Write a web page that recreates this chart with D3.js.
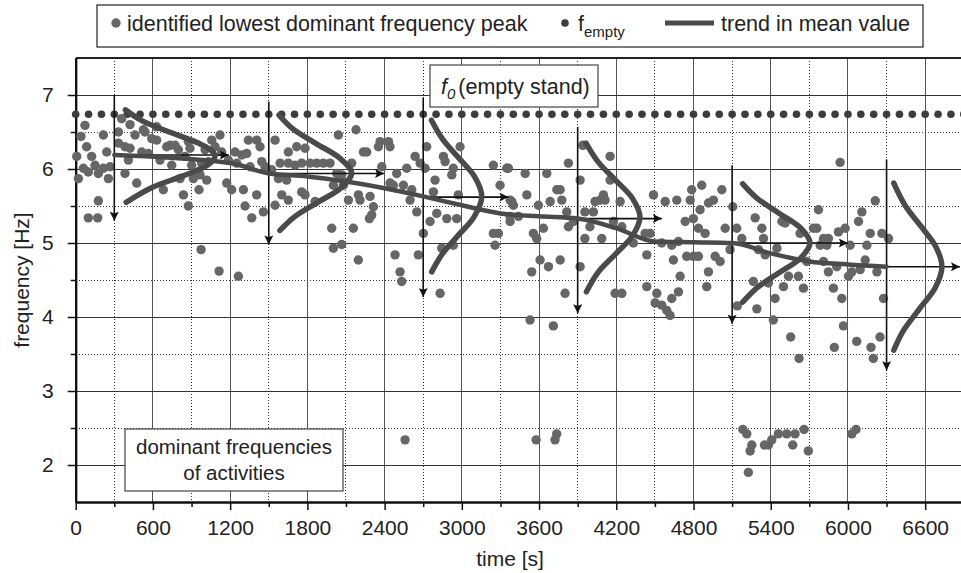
<!DOCTYPE html>
<html>
<head>
<meta charset="utf-8">
<script src="https://cdn.jsdelivr.net/npm/d3@7/dist/d3.min.js"></script>
<style>
  body { margin: 0; background: #fff; }
  text { font-family: "Liberation Sans", Arial, sans-serif; fill: #222; }
</style>
</head>
<body>
<svg id="chart" width="961" height="573"></svg>
<script>
// identified lowest dominant frequency peaks [time s, frequency Hz]
const peaks = [
  [72,6.59],[357,6.68],[422,6.60],[629,6.57],[539,6.50],[41,6.44],[215,6.46],[332,6.50],[461,6.46],[526,6.53],[591,6.41],[629,6.39],
  [733,6.32],[772,6.32],[875,6.37],[1057,6.39],[1121,6.46],[1342,6.39],[1406,6.39],[1432,6.30],[1549,6.39],[1652,6.23],[1717,6.30],
  [85,6.30],[241,6.23],[332,6.35],[383,6.30],[422,6.28],[513,6.23],[565,6.21],[707,6.30],[798,6.26],[888,6.28],[1005,6.26],[1083,6.30],
  [1134,6.23],[1238,6.23],[1290,6.19],[1329,6.21],[1445,6.10],
  [8,6.17],[124,6.17],[150,6.05],[60,6.01],[215,6.01],[267,6.03],[409,6.12],[655,6.12],[746,6.05],[850,6.17],[901,6.05],[979,6.08],
  [1031,6.10],[1186,6.12],[1251,6.08],[1355,6.03],[1471,6.03],[1588,6.08],[1652,6.08],[1704,6.05],
  [21,5.87],[98,5.96],[176,5.94],[254,5.87],[383,5.94],[474,5.81],[681,5.72],[811,5.87],[914,5.87],[966,5.92],[1018,5.85],[1173,5.81],
  [1212,5.72],[1303,5.72],[1406,5.65],[1523,5.99],[1575,5.87],[1639,5.85],
  [176,5.57],[837,5.65],[875,5.50],[958,5.72],[1316,5.50],[1601,5.65],[1652,5.58],[1549,5.51],
  [98,5.34],[171,5.34],[1368,5.34],[1458,5.42],[974,4.91],[1114,4.62],[1264,4.55],
  [2041,6.46],[2178,6.53],[2365,6.37],[2430,6.37],[2352,6.30],[2442,6.30],[2235,6.23],[2261,6.23],[1782,6.28],
  [1756,6.08],[1821,6.08],[1873,6.08],[1924,6.08],[1976,6.08],[2144,6.08],[2028,5.94],[2067,5.92],[2002,5.78],[2080,5.78],
  [1756,5.69],[1782,5.65],[1860,5.56],[1989,5.20],[2157,5.20],[2002,4.93],[2067,4.98],[2196,4.77],
  [2119,5.58],[2209,5.58],[2196,5.65],[2287,5.63],[2313,5.49],[2300,5.38],[2282,5.33],
  [2378,6.03],[2442,5.81],[2468,5.78],[2494,5.94],[2546,5.78],[2572,6.01],[2611,5.72],[2637,6.17],[2676,6.08],[2715,6.01],[2727,6.30],
  [2779,5.69],[2792,5.85],[2857,6.17],[2870,6.10],[2922,5.92],[2934,6.01],[2986,6.30],[2973,5.65],
  [2598,5.58],[2650,5.42],[2753,5.29],[2805,5.40],[2883,5.33],[2960,5.33],[2701,5.13],[2481,4.84],[2520,4.61],[2533,4.48],[2662,4.84],
  [2831,4.32],[2844,4.93],[2934,4.97],
  [3245,6.05],[3349,6.01],[3297,5.78],[3375,5.58],[3388,5.56],[3375,5.29],[3245,5.13],[3284,5.13],[3258,4.97],
  [3362,6.01],[3492,5.94],[3660,5.94],[3828,6.08],[3919,5.85],[4152,6.17],[4152,5.85],[4100,5.65],[4113,5.58],[4035,5.56],[4074,5.58],
  [4022,5.42],[3956,5.42],[3738,5.72],[3764,5.72],[3686,5.56],[3777,5.58],[3505,5.65],[3401,5.51],[3595,5.51],[3440,5.36],[3375,5.36],
  [3815,5.42],[3828,5.22],[3867,5.29],[3556,5.13],[3582,5.06],[3634,5.20],[3956,5.06],[3995,5.22],[4087,5.06],[4178,5.29],[4230,5.56],
  [4243,5.22],[4333,5.00],[4424,5.13],[4463,5.13],[4437,4.84],
  [3608,4.77],[3673,4.68],[3543,4.61],[3764,4.77],[3919,4.68],[3802,4.32],[4191,4.32],[4243,4.32],[4437,4.41],[4515,4.32],
  [4502,4.19],[4553,4.16],[4592,4.09],[4618,4.02],
  [4489,5.65],[4580,5.56],[4670,5.58],[4786,5.72],[4864,5.78],[4774,5.58],[4916,5.54],[4955,5.58],[5020,5.72],[4851,5.45],[4799,5.33],
  [4735,5.29],[4838,5.20],[4890,5.13],[5046,5.20],[4553,5.00],[4631,4.97],[4683,5.02],[4747,4.82],[4799,4.82],[4838,4.82],[4644,4.77],
  [4696,4.55],[4916,4.61],[4968,4.82],[5007,4.75],[4903,4.41],[4683,4.34],[4631,4.25],[3940,6.32],
  [5939,6.09],[5105,5.49],[5279,5.34],[5331,5.20],[5136,5.20],[5175,5.06],[5084,4.91],[5344,5.06],[5305,4.91],[5357,4.84],[5448,4.93],
  [5487,5.29],[5512,5.27],[5628,5.13],[5732,5.20],[5758,5.20],[5771,5.45],[5810,5.06],[5848,5.06],[5784,4.97],[5836,4.97],[5926,5.15],
  [5978,5.20],[6017,4.97],[6082,5.29],[6108,5.42],[6212,5.57],[6147,4.97],[6173,5.13],[6264,5.13],[6315,5.06],[5680,4.75],[5810,4.75],
  [5848,4.61],[5913,4.68],[6004,4.55],[6030,4.61],[6095,4.64],[6134,4.77],[6225,4.61],[5265,4.48],[5382,4.46],[5499,4.41],[5538,4.55],
  [5615,4.55],[5654,4.39],[5887,4.39],[5434,4.25],[5292,4.11],[5952,4.25],[6276,4.25],
  [3530,3.96],[3711,3.88],[5140,4.15],[5420,3.96],[5555,3.73],[5620,3.44],[5965,3.88],[5894,3.59],[6068,3.67],[6179,3.59],[6249,3.73],[6197,3.44],
  [2559,2.34],[3577,2.34],[3724,2.34],[3737,2.42],[5183,2.48],[5214,2.42],[5253,2.27],[5240,2.19],[5226,1.90],[5351,2.27],[5382,2.27],
  [5408,2.34],[5459,2.42],[5524,2.42],[5589,2.42],[5571,2.27],[5659,2.48],[5692,2.19],[6030,2.42],[6063,2.48]
];

// f_empty (empty stand), sampled every 100 s
const emptyFreq = 6.74;
const emptyTimes = d3.range(0, 6901, 100);

// trend in mean value
const trendTimes = [300, 1200, 1500, 1800, 2100, 2400, 2700, 3000, 3300, 3600, 3900, 4200, 4500, 4800, 5100, 5400, 5700, 6000, 6300];
const trendFreqs = [6.19, 6.08, 5.94, 5.90, 5.83, 5.74, 5.63, 5.51, 5.40, 5.36, 5.33, 5.20, 5.02, 5.01, 5.00, 4.86, 4.75, 4.71, 4.68];

// one window per 1200 s: vertical arrow (top, bottom), horizontal arrow (freq, end time)
const windowStart = [300, 1500, 2700, 3900, 5100, 6300];
const vArrowTop = [7.00, 6.91, 6.96, 6.57, 6.05, 6.13];
const vArrowBottom = [5.30, 4.98, 4.27, 4.05, 3.91, 3.28];
const hArrowFreq = [6.19, 5.94, 5.62, 5.33, 5.00, 4.68];
const hArrowEnd = [1190, 2396, 3362, 4554, 5999, 6900];

// distribution shapes drawn beside each window [time, freq]
const bells = [
  [[386,6.80],[517,6.65],[727,6.50],[953,6.35],[1055,6.25],[1082,6.17],[1022,6.05],[822,5.90],[593,5.75],[392,5.55]],
  [[1579,6.73],[1682,6.55],[1861,6.35],[2049,6.15],[2144,5.95],[2065,5.75],[1881,5.55],[1697,5.35],[1587,5.17]],
  [[2764,6.66],[2852,6.40],[2976,6.15],[3098,5.90],[3155,5.63],[3094,5.35],[2970,5.10],[2847,4.85],[2766,4.61]],
  [[3965,6.35],[4057,6.10],[4194,5.85],[4327,5.60],[4384,5.35],[4327,5.10],[4194,4.85],[4057,4.60],[3968,4.34]],
  [[5182,5.80],[5297,5.60],[5467,5.40],[5634,5.20],[5705,5.00],[5634,4.80],[5467,4.60],[5297,4.40],[5182,4.20]],
  [[6356,5.81],[6447,5.50],[6579,5.20],[6683,4.95],[6730,4.68],[6679,4.40],[6551,4.10],[6425,3.80],[6356,3.55]]
];

const xMajor = d3.range(0, 6601, 600);
const xMinor = d3.range(300, 6901, 600);
const yMajor = [2, 3, 4, 5, 6, 7];
const yMinor = [2.5, 3.5, 4.5, 5.5, 6.5];

const svg = d3.select('#chart');
const x = d3.scaleLinear().domain([0, 6900]).range([75.7, 963.8]);
const y = d3.scaleLinear().domain([1.5, 7.5]).range([502, 58]);
const x0 = x(0), x1 = 961, yTop = y(7.5), yBot = y(1.5);

svg.append('rect').attr('width', 961).attr('height', 573).attr('fill', '#fff');

// grid
const grid = svg.append('g').attr('shape-rendering', 'crispEdges');
grid.selectAll('line.vmaj').data(xMajor.concat([6900])).enter().append('line')
    .attr('x1', d => x(d)).attr('x2', d => x(d))
    .attr('y1', yTop).attr('y2', yBot)
    .attr('stroke', '#555').attr('stroke-width', 1);
grid.selectAll('line.vmin').data(xMinor).enter().append('line')
    .attr('x1', d => x(d)).attr('x2', d => x(d))
    .attr('y1', yTop).attr('y2', yBot)
    .attr('stroke', '#333').attr('stroke-width', 1).attr('stroke-dasharray', '1,2');
grid.selectAll('line.hmaj').data(yMajor).enter().append('line')
    .attr('x1', x0).attr('x2', x1)
    .attr('y1', d => y(d)).attr('y2', d => y(d))
    .attr('stroke', '#333').attr('stroke-width', 1);
grid.selectAll('line.hmin').data(yMinor).enter().append('line')
    .attr('x1', x0).attr('x2', x1)
    .attr('y1', d => y(d)).attr('y2', d => y(d))
    .attr('stroke', '#333').attr('stroke-width', 1).attr('stroke-dasharray', '1,2');
grid.append('line').attr('x1', x0).attr('x2', x1).attr('y1', yTop).attr('y2', yTop)
    .attr('stroke', '#222').attr('stroke-width', 1.5);

// axes
const fmt = d3.format('d');
svg.append('g').attr('transform', 'translate(' + x0 + ',0)')
    .call(d3.axisLeft(y).tickValues(yMajor).tickSize(8).tickSizeOuter(0).tickFormat(fmt).tickPadding(14));
svg.append('g').attr('transform', 'translate(' + x0 + ',0)')
    .call(d3.axisLeft(y).tickValues(yMinor).tickSize(5).tickSizeOuter(0).tickFormat(''));
svg.append('g').attr('transform', 'translate(0,' + yBot + ')')
    .call(d3.axisBottom(x).tickValues(xMajor).tickSize(8).tickSizeOuter(0).tickFormat(fmt).tickPadding(10));
svg.append('g').attr('transform', 'translate(0,' + yBot + ')')
    .call(d3.axisBottom(x).tickValues(xMinor).tickSize(5).tickSizeOuter(0).tickFormat(''));
svg.selectAll('.domain').attr('stroke', '#111').attr('stroke-width', 2);
svg.selectAll('.tick line').attr('stroke', '#111').attr('stroke-width', 1.5);
svg.selectAll('.tick text').style('font-size', '21px').style('font-family', '"Liberation Sans", Arial, sans-serif').attr('fill', '#222');

svg.append('text').attr('x', 510).attr('y', 566).attr('text-anchor', 'middle')
    .style('font-size', '21px').text('time [s]');
svg.append('text').attr('transform', 'translate(29,280) rotate(-90)').attr('text-anchor', 'middle')
    .style('font-size', '21px').text('frequency [Hz]');

// arrow head
svg.append('defs').append('marker')
    .attr('id', 'head').attr('viewBox', '0 0 10 10').attr('refX', 10).attr('refY', 5)
    .attr('markerUnits', 'userSpaceOnUse').attr('markerWidth', 11).attr('markerHeight', 9)
    .attr('orient', 'auto')
    .append('path').attr('d', 'M0,0 L10,5 L0,10 L2,5 z').attr('fill', '#111');

// annotation boxes
const box1 = svg.append('g');
box1.append('rect').attr('x', 430).attr('y', 65).attr('width', 168).attr('height', 42)
    .attr('fill', '#fff').attr('stroke', '#444').attr('stroke-width', 1.2);
const t1 = box1.append('text').attr('x', 441).attr('y', 94).style('font-size', '21.5px');
t1.append('tspan').style('font-style', 'italic').text('f');
t1.append('tspan').style('font-style', 'italic').style('font-size', '15px').attr('dy', 5).text('0');
t1.append('tspan').attr('dy', -5).attr('dx', 3).text('(empty stand)');

const box2 = svg.append('g');
box2.append('rect').attr('x', 125).attr('y', 429).attr('width', 218).attr('height', 62)
    .attr('fill', '#fff').attr('stroke', '#444').attr('stroke-width', 1.2);
box2.append('text').attr('x', 234).attr('y', 454).attr('text-anchor', 'middle')
    .style('font-size', '20.5px').text('dominant frequencies');
box2.append('text').attr('x', 234).attr('y', 480).attr('text-anchor', 'middle')
    .style('font-size', '20.5px').text('of activities');

// f_empty dots
svg.append('g').selectAll('circle').data(emptyTimes).enter().append('circle')
    .attr('cx', d => x(d)).attr('cy', y(emptyFreq)).attr('r', 3.8).attr('fill', '#3c3c3c');

// scatter
svg.append('g').selectAll('circle').data(peaks).enter().append('circle')
    .attr('cx', d => x(d[0])).attr('cy', d => y(d[1])).attr('r', 4.7).attr('fill', '#666');

// arrows
const arrows = svg.append('g').attr('stroke', '#111').attr('stroke-width', 1.6);
windowStart.forEach((t, i) => {
    arrows.append('line').attr('x1', x(t)).attr('x2', x(t))
        .attr('y1', y(vArrowTop[i])).attr('y2', y(vArrowBottom[i]))
        .attr('marker-end', 'url(#head)');
    arrows.append('line').attr('x1', x(t)).attr('x2', Math.min(x(hArrowEnd[i]), 960))
        .attr('y1', y(hArrowFreq[i])).attr('y2', y(hArrowFreq[i]))
        .attr('marker-end', 'url(#head)');
});

// trend and distribution shapes
const trendLine = d3.line().x(d => x(d[0])).y(d => y(d[1])).curve(d3.curveMonotoneX);
svg.append('path').datum(trendTimes.map((t, i) => [t, trendFreqs[i]]))
    .attr('d', trendLine).attr('fill', 'none').attr('stroke', '#4a4a4a')
    .attr('stroke-width', 4.5).attr('stroke-linecap', 'round');

const bellLine = d3.line().x(d => x(d[0])).y(d => y(d[1])).curve(d3.curveCatmullRom);
svg.append('g').selectAll('path').data(bells).enter().append('path')
    .attr('d', bellLine).attr('fill', 'none').attr('stroke', '#4a4a4a')
    .attr('stroke-width', 5.5).attr('stroke-linecap', 'round');

// legend
const lg = svg.append('g');
lg.append('rect').attr('x', 97).attr('y', 5).attr('width', 826).attr('height', 42)
    .attr('fill', '#fff').attr('stroke', '#222').attr('stroke-width', 1.2);
lg.append('circle').attr('cx', 116).attr('cy', 23).attr('r', 4.7).attr('fill', '#666');
lg.append('text').attr('x', 127).attr('y', 31).style('font-size', '21.5px')
    .text('identified lowest dominant frequency peak');
lg.append('circle').attr('cx', 565).attr('cy', 23).attr('r', 3.8).attr('fill', '#3c3c3c');
const lt = lg.append('text').attr('x', 578).attr('y', 31).style('font-size', '21.5px');
lt.append('tspan').text('f');
lt.append('tspan').attr('dy', 6).style('font-size', '15px').text('empty');
lg.append('line').attr('x1', 665).attr('x2', 714).attr('y1', 23).attr('y2', 23)
    .attr('stroke', '#4a4a4a').attr('stroke-width', 5);
lg.append('text').attr('x', 721).attr('y', 31).style('font-size', '21.5px').text('trend in mean value');
</script>
</body>
</html>
